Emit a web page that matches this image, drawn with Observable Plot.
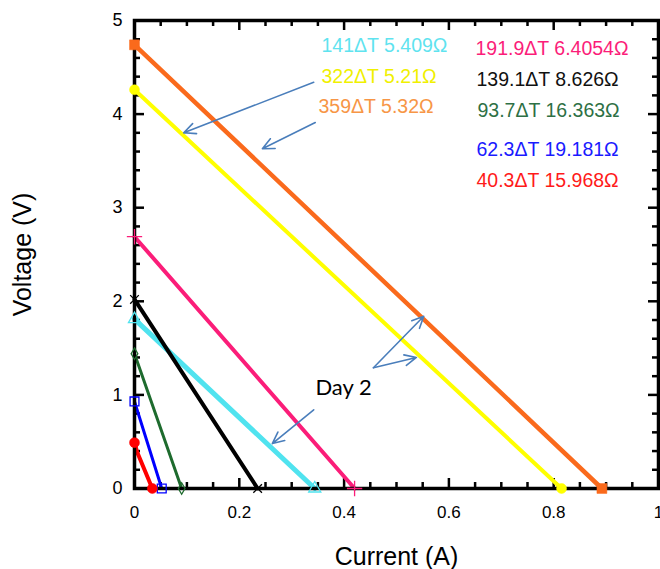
<!DOCTYPE html>
<html><head><meta charset="utf-8">
<script src="https://cdn.jsdelivr.net/npm/d3@7"></script>
<script src="https://cdn.jsdelivr.net/npm/@observablehq/plot@0.6"></script>
<style>body{margin:0;background:#fff;} svg{display:block}</style>
</head><body><div id="chart"></div>
<script>
// ---- data ----
const seriesLabels = ["141ΔT 5.409Ω","322ΔT 5.21Ω","359ΔT 5.32Ω","191.9ΔT 6.4054Ω","139.1ΔT 8.626Ω","93.7ΔT 16.363Ω","62.3ΔT 19.181Ω","40.3ΔT 15.968Ω"];
const currentPts = [[0,0.344],[0,0.815],[0,0.892],[0,0.42],[0,0.235],[0,0.09],[0,0.052],[0,0.005,0.034]];
const voltagePts = [[1.81,0],[4.26,0],[4.74,0],[2.69,0],[2.02,0],[1.44,0],[0.93,0],[0.49,0.39,0]];
const xTicks = [0,0.2,0.4,0.6,0.8,1];
const yTicks = [0,1,2,3,4,5];
const annotationText = "Day 2";
// annotation arrows (data units: current, voltage)
const arrowX1 = [0.342,0.345,0.456,0.456,0.342];
const arrowY1 = [4.34,3.91,1.29,1.29,0.84];
const arrowX2 = [0.094,0.244,0.552,0.538,0.263];
const arrowY2 = [3.80,3.63,1.84,1.40,0.48];

// ---- styles ----
const lineColors = ["#50e3ef","#ffff00","#fa6a1c","#fb1d79","#000000","#1e6b2e","#0000ff","#ff0000"];
const textColors = ["#5fe3ef","#f0f000","#f79646","#fb1d79","#111111","#2e7045","#1a1aff","#ff1a1a"];
const lineWidths = [5,4,4.5,4,4,3,3,4];
const symbols = ["triangle","circle","square","plus","times","diamond","square","circle"];
const filled = [false,true,true,false,false,false,false,true];
const symR = [4.5,5,5.6,5,4,3.5,5,5];

const W = 660, H = 569, mL = 134, mR = 2, mT = 20, mB = 81;
const pxX = (W - mL - mR), pxY = (H - mT - mB) / 5;

const xMinor = d3.range(0, 1.0001, 0.05).filter(v => Math.abs(v*5 - Math.round(v*5)) > 1e-6);
const yMinor = d3.range(0, 5.0001, 0.2).filter(v => Math.abs(v - Math.round(v)) > 1e-6);

const majLen = 10, minLen = 6;
const tickMarks = [
  Plot.ruleX(xTicks, {x: d=>d, y1: 0, y2: majLen/pxY, stroke:"#000", strokeWidth:2.5}),
  Plot.ruleX(xMinor, {x: d=>d, y1: 0, y2: minLen/pxY, stroke:"#000", strokeWidth:2.5}),
  Plot.ruleX(xTicks, {x: d=>d, y1: 5, y2: 5-majLen/pxY, stroke:"#000", strokeWidth:2.5}),
  Plot.ruleX(xMinor, {x: d=>d, y1: 5, y2: 5-minLen/pxY, stroke:"#000", strokeWidth:2.5}),
  Plot.ruleY(yTicks, {y: d=>d, x1: 0, x2: majLen/pxX, stroke:"#000", strokeWidth:2.5}),
  Plot.ruleY(yMinor, {y: d=>d, x1: 0, x2: minLen/pxX, stroke:"#000", strokeWidth:2.5}),
  Plot.ruleY(yTicks, {y: d=>d, x1: 1, x2: 1-majLen/pxX, stroke:"#000", strokeWidth:2.5}),
  Plot.ruleY(yMinor, {y: d=>d, x1: 1, x2: 1-minLen/pxX, stroke:"#000", strokeWidth:2.5}),
];

const lineMarks = seriesLabels.map((s,i) => {
  const pts = currentPts[i].map((c,j) => ({I:c, V:voltagePts[i][j]}));
  return Plot.line(pts, {x:"I", y:"V", stroke: lineColors[i], strokeWidth: lineWidths[i]});
});
const dotMarks = seriesLabels.map((s,i) => {
  const n = currentPts[i].length;
  const pts = [{I:currentPts[i][0], V:voltagePts[i][0]}, {I:currentPts[i][n-1], V:voltagePts[i][n-1]}];
  return Plot.dot(pts, {x:"I", y:"V", symbol: symbols[i], r: symR[i],
    fill: filled[i] ? lineColors[i] : "none", stroke: lineColors[i], strokeWidth: filled[i] ? 0.5 : 1.3});
});

// legend text layout (pixel offsets from frame top-left)
const colDx = [187,187,184,341,342,343,342,342];
const rowDy = [25,56,86,28,59,90,129,160];
const legendMarks = seriesLabels.map((s,i) => Plot.text([s], {frameAnchor:"top-left", dx: colDx[i], dy: rowDy[i],
  textAnchor:"start", lineAnchor:"middle", fill: textColors[i], fontSize: 19.5, fontFamily:"Liberation Sans, Arial, sans-serif"}));

const arrows = Plot.arrow(arrowX1.map((_,i)=>i), {x1: i=>arrowX1[i], y1: i=>arrowY1[i], x2: i=>arrowX2[i], y2: i=>arrowY2[i],
  stroke:"#4a7ebb", strokeWidth:1.6, headLength: 12, headAngle: 50});

const chart = Plot.plot({
  width: W, height: H, marginLeft: mL, marginRight: mR, marginTop: mT, marginBottom: mB,
  style: {fontFamily: "Liberation Sans, Arial, sans-serif", background: "#fff", color: "#000"},
  x: {domain: [0,1], label: null},
  y: {domain: [0,5], label: null},
  marks: [
    Plot.axisX({ticks: xTicks, tickFormat: d => String(d), tickSize: 0, tickPadding: 17, fontSize: 17, label: null}),
    Plot.axisY({ticks: yTicks, tickFormat: d => String(d), tickSize: 0, tickPadding: 12, fontSize: 18, label: null}),
    ...tickMarks,
    ...lineMarks,
    Plot.frame({stroke:"#000", strokeWidth: 3.5}),
    ...dotMarks,
    ...legendMarks,
    arrows,
    Plot.text([annotationText], {x: 0.399, y: 1.07, fontSize: 22, fontFamily: "Lato, sans-serif", fill:"#000"}),
    Plot.text(["Current (A)"], {x: () => 0.5, y: () => -68/pxY, fontSize: 25, lineAnchor:"middle", fill:"#000"}),
    Plot.text(["Voltage (V)"], {x: () => -112/pxX, y: () => 2.5, rotate: -90, fontSize: 25, lineAnchor:"middle", fill:"#000"}),
  ]
});
document.getElementById("chart").appendChild(chart);
</script>
</body></html>
